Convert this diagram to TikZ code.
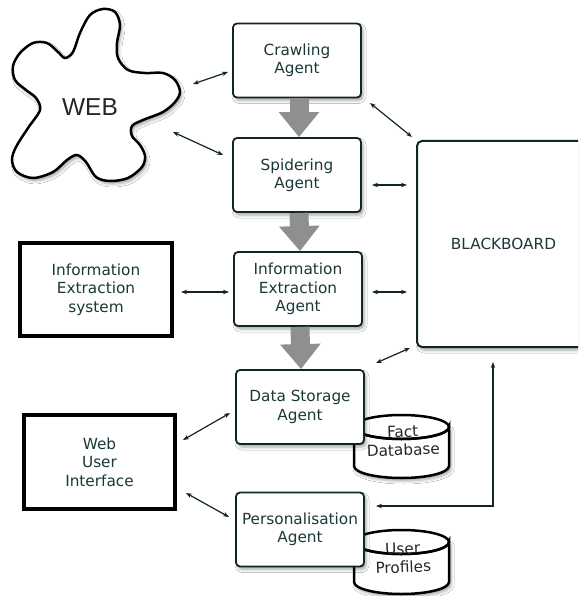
\documentclass[tikz,border=0pt]{standalone}
\usepackage{fontspec}
\setmainfont{DejaVu Sans}
\newfontfamily\webfont{Liberation Sans}
\usetikzlibrary{arrows.meta,shadows.blur,calc}

\definecolor{ink}{RGB}{16,38,38}
\definecolor{txt}{RGB}{26,56,56}
\definecolor{flow}{RGB}{143,143,143}

\begin{document}
\begin{tikzpicture}[x=1pt,y=-1pt,
  soft/.style={blur shadow={shadow xshift=2pt,shadow yshift=-3pt,shadow blur radius=3pt,shadow opacity=35}},
  label/.style={text=txt,font=\fontsize{15.3}{18.4}\selectfont,align=center,inner sep=0pt},
  agent/.style={label,draw=ink,fill=white,line width=1.8pt,rounded corners=4pt,
    minimum width=128pt,minimum height=74pt,soft},
  extsys/.style={label,draw=black,fill=white,line width=4pt},
  dbl/.style={draw=ink,line width=1.2pt,
    arrows={Stealth[length=6pt,width=4.5pt]-Stealth[length=6pt,width=4.5pt]}},
  flowarrow/.style={draw=flow,line width=19pt,
    arrows={-Triangle[length=25pt,width=39pt]}},
  drum/.style={draw=black,fill=white,line width=2.5pt,soft}]

\clip (0,0) rectangle (578,596);
\fill[white] (0,0) rectangle (578,596);

% the web as an irregular blob
\draw[line width=2.5pt,fill=white,soft] plot[smooth cycle,tension=0.55] coordinates {
  (103,9) (115,12) (120,25) (117,43) (118,58) (128,70) (145,73) (163,73)
  (175,80) (180,92) (175,102) (163,112) (143,120) (132,126) (132,136)
  (140,145) (145,156) (142,167) (128,178) (110,181) (96,177) (86,162)
  (77,155) (67,160) (53,172) (33,178) (17,172) (12,160) (16,147) (28,128)
  (40,110) (36,98) (26,90) (15,80) (13,66) (20,53) (33,43) (47,43) (58,52)
  (65,58) (73,52) (80,33) (90,15)};
\node[inner sep=0pt,font=\webfont\fontsize{24.5}{24.5}\selectfont,text=black!85] (web) at (90,107) {WEB};

% database drums
\path[drum] (354,427) -- (354,466) arc[start angle=180,end angle=0,x radius=47.5,y radius=12]
  -- (449,427) arc[start angle=0,end angle=180,x radius=47.5,y radius=12] -- cycle;
\draw[line width=2.5pt] (401.5,427) ellipse[x radius=47.5,y radius=12];
\path[drum] (354,542) -- (354,582) arc[start angle=180,end angle=0,x radius=47.5,y radius=12]
  -- (449,542) arc[start angle=0,end angle=180,x radius=47.5,y radius=12] -- cycle;
\draw[line width=2.5pt] (401.5,542) ellipse[x radius=47.5,y radius=12];
\node[label,text=black!85,rotate=2] (fact) at (403,441) {Fact\\Database};
\node[label,text=black!85,rotate=2] (profiles) at (403,558) {User\\Profiles};

% agents
\node[agent] (crawl) at (297,60.5) {Crawling\\Agent};
\node[agent] (spid) at (297,175) {Spidering\\Agent};
\node[agent] (iea) at (298,289) {Information\\Extraction\\Agent};
\node[agent] (store) at (300,407) {Data Storage\\Agent};
\node[agent] (pers) at (300,529.5) {Personalisation\\Agent};

% external systems
\node[extsys,minimum width=152pt,minimum height=93pt] (ies) at (96,289.5) {Information\\Extraction\\system};
\node[extsys,minimum width=151pt,minimum height=94pt] (wui) at (99.5,462) {Web\\User\\Interface};

% blackboard
\node[label,draw=ink,fill=white,line width=2pt,rounded corners=5pt,soft,
  minimum width=173pt,minimum height=206pt] (bb) at (503.5,244) {BLACKBOARD};

% pipeline flow between agents
\draw[flowarrow] ([xshift=2pt]crawl.south) -- ([xshift=2pt]spid.north);
\draw[flowarrow] ([xshift=2pt]spid.south) -- ([xshift=2pt]iea.north);
\draw[flowarrow] ([xshift=2pt]iea.south) -- ([xshift=1pt]store.north);

% end points of the message links
\coordinate (w1) at (193,84);   \coordinate (c1) at (228,72);
\coordinate (w2) at (173,132);  \coordinate (s1) at (223,155);
\coordinate (c2) at (370,103);  \coordinate (b1) at (412,137);
\coordinate (s2) at (372,185);  \coordinate (b2) at (407,185);
\coordinate (i1) at (181,292);  \coordinate (e1) at (229,292);
\coordinate (e2) at (372,292);  \coordinate (b3) at (407,292);
\coordinate (d1) at (376,363);  \coordinate (b4) at (410,348);
\coordinate (u1) at (183,440);  \coordinate (d2) at (230,413);
\coordinate (u2) at (186,493);  \coordinate (p1) at (229,517);
\coordinate (b5) at (493,362);  \coordinate (p2) at (376,506);

\draw[dbl] (w1) -- (c1);
\draw[dbl] (w2) -- (s1);
\draw[dbl] (c2) -- (b1);
\draw[dbl] (s2) -- (b2);
\draw[dbl] (i1) -- (e1);
\draw[dbl] (e2) -- (b3);
\draw[dbl] (d1) -- (b4);
\draw[dbl] (u1) -- (d2);
\draw[dbl] (u2) -- (p1);
\draw[dbl] (b5) |- (p2);
\end{tikzpicture}
\end{document}
